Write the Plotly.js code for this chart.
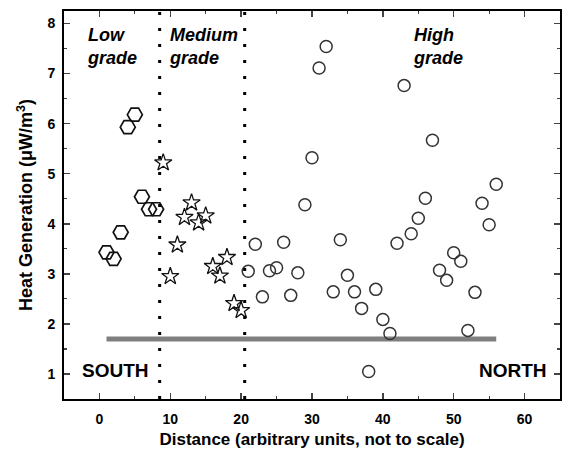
<!DOCTYPE html>
<html>
<head>
<meta charset="utf-8">
<script src="https://cdn.plot.ly/plotly-3.0.1.min.js"></script>
<style>html,body{margin:0;padding:0;background:#fff;}#chart{width:566px;height:449px;}</style>
</head>
<body>
<div id="chart"></div>
<script>
// Low grade (hexagons)
const lowX = [1, 2, 3, 4, 5, 6, 7, 8];
const lowY = [3.43, 3.30, 3.83, 5.93, 6.18, 4.54, 4.29, 4.29];
// Medium grade (stars)
const medX = [9, 10, 11, 12, 13, 14, 15, 16, 17, 18, 19, 20];
const medY = [5.22, 2.95, 3.58, 4.13, 4.42, 4.02, 4.16, 3.15, 2.96, 3.33, 2.41, 2.27];
// High grade (circles)
const highX = [21, 22, 23, 24, 25, 26, 27, 28, 29, 30, 31, 32, 33, 34, 35, 36, 37, 38,
               39, 40, 41, 42, 43, 44, 45, 46, 47, 48, 49, 50, 51, 52, 53, 54, 55, 56];
const highY = [3.05, 3.59, 2.54, 3.06, 3.12, 3.63, 2.57, 3.02, 4.38, 5.32, 7.11, 7.54,
               2.64, 3.68, 2.97, 2.64, 2.31, 1.05, 2.69, 2.09, 1.81, 3.61, 6.76, 3.80,
               4.11, 4.51, 5.67, 3.07, 2.87, 3.42, 3.25, 1.87, 2.63, 4.41, 3.98, 4.79];
// Reference level line
const refX = [1, 56];
const refY = [1.7, 1.7];
// Grade boundaries
const boundaries = [8.5, 20.5];
const yRange = [0.5, 8.25];
const xRange = [-5, 65];

const F = "'Liberation Sans', Arial, sans-serif";

const traces = [
  {x: refX, y: refY, mode: 'lines', line: {color: '#7f7f7f', width: 5}, hoverinfo: 'skip', showlegend: false},
  {x: lowX, y: lowY, mode: 'markers', marker: {symbol: 'hexagon2-open', size: 15, color: '#111', line: {width: 1.7}}, showlegend: false},
  {x: medX, y: medY, mode: 'markers', marker: {symbol: 'star-open', size: 13, color: '#111', line: {width: 1.3}}, showlegend: false},
  {x: highX, y: highY, mode: 'markers', marker: {symbol: 'circle-open', size: 12, color: '#333', line: {width: 1.5}}, showlegend: false}
];

const shapes = boundaries.map(b => ({
  type: 'line', xref: 'x', yref: 'paper', x0: b, x1: b, y0: 0, y1: 1,
  line: {color: '#000', width: 3, dash: '3px,13px'}
}));

const ann = (text, x, y, xanchor, italic, size) => ({
  text: text, x: x, y: y, xref: 'x', yref: 'y', xanchor: xanchor, yanchor: 'middle',
  showarrow: false, align: 'left',
  font: {family: F, size: size, color: '#000', weight: 'bold', style: italic ? 'italic' : 'normal'}
});

const layout = {
  width: 566, height: 449,
  margin: {l: 64, r: 6, t: 11, b: 50},
  paper_bgcolor: '#fff', plot_bgcolor: '#fff',
  font: {family: F, color: '#000'},
  xaxis: {
    range: xRange, dtick: 10, tick0: 0, ticks: 'inside', ticklen: 6, tickwidth: 1.5,
    showline: true, linewidth: 1.8, linecolor: '#000', mirror: 'ticks', showgrid: false, zeroline: false,
    minor: {dtick: 5, ticks: 'inside', ticklen: 3, tickwidth: 1.2},
    tickfont: {family: F, size: 14, weight: 'bold'},
    ticklabelstandoff: 6,
    title: {text: 'Distance (arbitrary units, not to scale)', font: {family: F, size: 17, weight: 'bold'}, standoff: 8}
  },
  yaxis: {
    range: yRange, dtick: 1, tick0: 0, ticks: 'inside', ticklen: 6, tickwidth: 1.5,
    showline: true, linewidth: 1.8, linecolor: '#000', mirror: 'ticks', showgrid: false, zeroline: false,
    minor: {dtick: 0.5, ticks: 'inside', ticklen: 3, tickwidth: 1.2},
    tickfont: {family: F, size: 14, weight: 'bold'},
    ticklabelstandoff: 4,
    title: {text: 'Heat Generation (μW/m<sup>3</sup>)', font: {family: F, size: 18, weight: 'bold'}, standoff: 10}
  },
  shapes: shapes,
  annotations: [
    ann('Low<br>grade', -2, 7.55, 'left', true, 18),
    ann('Medium<br>grade', 9.6, 7.55, 'left', true, 18),
    ann('High<br>grade', 44, 7.55, 'left', true, 18),
    ann('SOUTH', -2.7, 1.07, 'left', false, 19),
    ann('NORTH', 63.5, 1.07, 'right', false, 19)
  ]
};

Plotly.newPlot('chart', traces, layout, {displayModeBar: false, staticPlot: true});
</script>
</body>
</html>
